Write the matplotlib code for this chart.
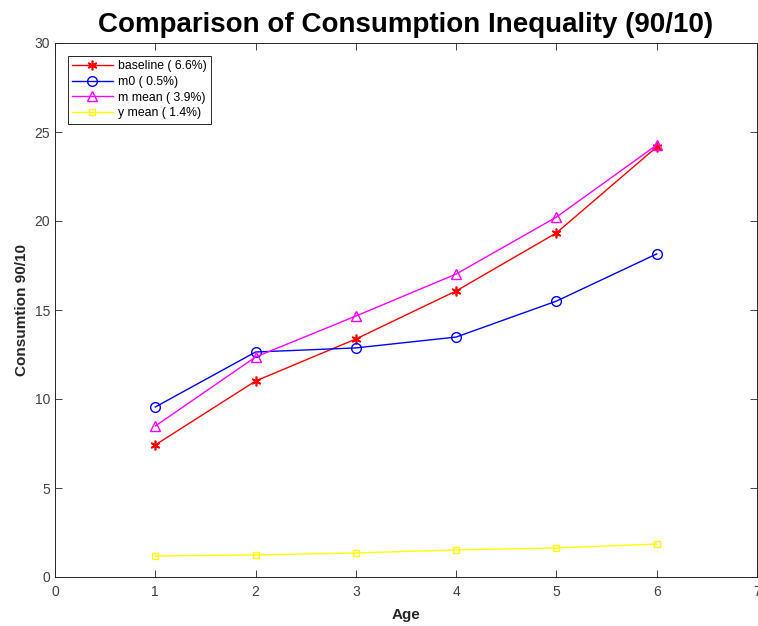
import numpy as np
import matplotlib.pyplot as plt

plt.rcParams['font.family'] = ['Liberation Sans', 'DejaVu Sans']

age = [1, 2, 3, 4, 5, 6]
baseline = [7.42, 11.01, 13.37, 16.07, 19.33, 24.16]
m0 = [9.55, 12.64, 12.87, 13.48, 15.50, 18.15]
m_mean = [8.48, 12.36, 14.66, 17.02, 20.22, 24.27]
y_mean = [1.18, 1.24, 1.35, 1.52, 1.63, 1.85]

labels = ['baseline ( 6.6%)', 'm0 ( 0.5%)', 'm mean ( 3.9%)', 'y mean ( 1.4%)']

fig = plt.figure(figsize=(7.58, 6.26), dpi=100)
ax = fig.add_axes([55/758, 1 - 577/626, 702/758, 534/626])

ax.plot(age, baseline, color='red', marker=(6, 2, 0), ms=7, mew=1.2, lw=1, label=labels[0])
ax.plot(age, m0, color='blue', marker='o', ms=7, mfc='none', lw=1, label=labels[1])
ax.plot(age, m_mean, color='magenta', marker='^', ms=7, mfc='none', lw=1, label=labels[2])
ax.plot(age, y_mean, color='yellow', marker='s', ms=5, mfc='none', lw=1, label=labels[3])

ax.set_xlim(0, 7)
ax.set_ylim(0, 30)
ax.set_xticks(range(0, 8))
ax.set_yticks(range(0, 31, 5))
ax.tick_params(direction='in', top=True, right=True, labelsize=10, length=5, width=0.6,
               colors='#262626', labelcolor='#404040')
ax.tick_params(axis='x', pad=6)
for s in ax.spines.values():
    s.set_linewidth(0.7)
    s.set_color('#262626')

ax.set_xlabel('Age', fontsize=11, fontweight='bold', color='#262626', labelpad=6)
ax.set_ylabel('Consumtion 90/10', fontsize=11, fontweight='bold', color='#262626')
ax.set_title('Comparison of Consumption Inequality (90/10)', fontsize=20, fontweight='bold', pad=8)

leg = ax.legend(loc='upper left', bbox_to_anchor=(13/702, 1 - 13/534), fontsize=8.8, fancybox=False,
                edgecolor='#262626', framealpha=1, handlelength=3.3, borderpad=0.35,
                labelspacing=0.3, handletextpad=0.45, borderaxespad=0)
leg.get_frame().set_linewidth(0.7)

fig.savefig('out.png', dpi=100)
